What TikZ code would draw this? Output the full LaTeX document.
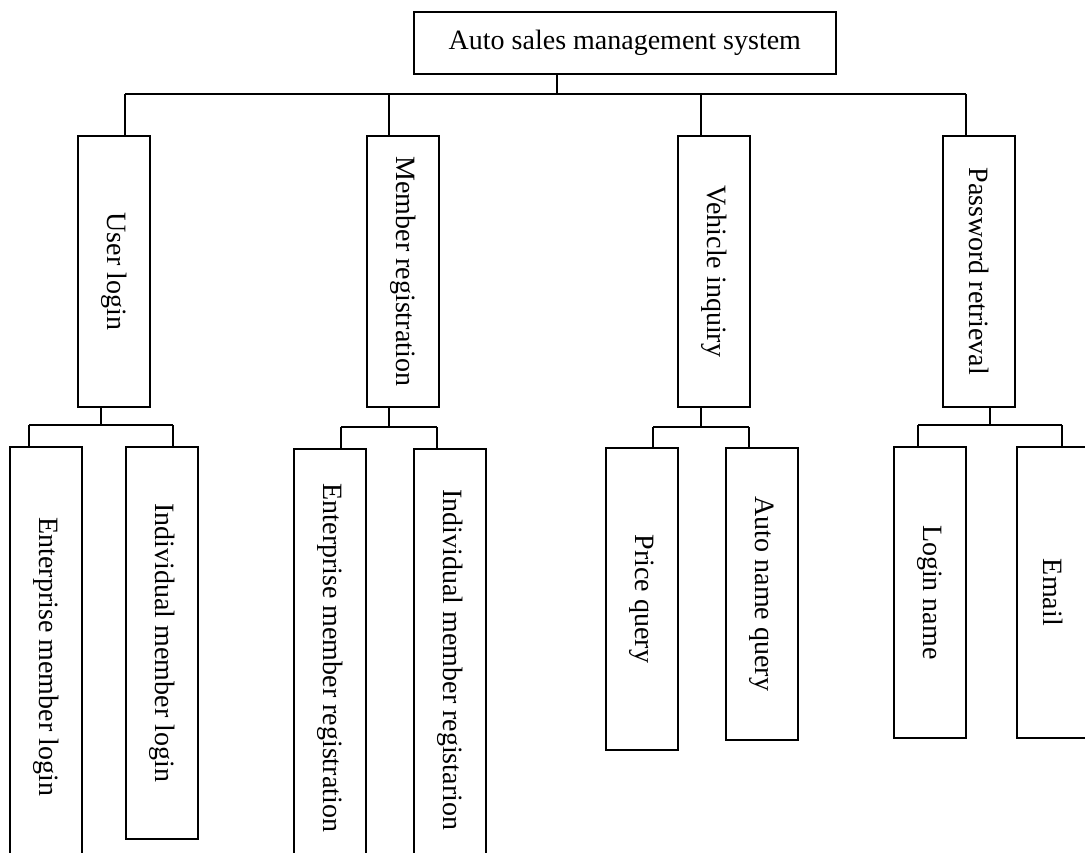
\documentclass[tikz,border=0pt]{standalone}
\usepackage{fontspec}
\setmainfont{Liberation Serif}
\usepackage{graphicx}
\usetikzlibrary{positioning}

\begin{document}
\begin{tikzpicture}[x=1pt, y=-1pt, line width=1.7pt,
  box/.style={draw, inner sep=0pt, anchor=north west, font=\fontsize{28}{34}\selectfont},
  vbox/.style={box, minimum width=72pt}]
\clip (0,0) rectangle (1085,853);

% Root
\node[box, minimum width=422pt, minimum height=62pt] (root) at (413,11) {Auto sales management system};

% First level
\node[vbox, minimum height=271pt] (login) at (77,135) {\rotatebox{-90}{User login}};
\node[vbox, minimum height=271pt] (reg) at (366,135) {\rotatebox{-90}{Member registration}};
\node[vbox, minimum height=271pt] (inq) at (677,135) {\rotatebox{-90}{Vehicle inquiry}};
\node[vbox, minimum height=271pt] (pwd) at (942,135) {\rotatebox{-90}{Password retrieval}};

% Second level
\node[vbox, minimum height=420pt] (elog) at (9,446) {\rotatebox{-90}{Enterprise member login}};
\node[vbox, minimum height=392pt] (ilog) at (125,446) {\rotatebox{-90}{Individual member login}};
\node[vbox, minimum height=418pt] (ereg) at (293,448) {\rotatebox{-90}{Enterprise member registration}};
\node[vbox, minimum height=422pt] (ireg) at (413,448) {\rotatebox{-90}{Individual member registarion}};
\node[vbox, minimum height=302pt] (price) at (605,447) {\rotatebox{-90}{Price query}};
\node[vbox, minimum height=292pt] (aname) at (725,447) {\rotatebox{-90}{Auto name query}};
\node[vbox, minimum height=291pt] (lname) at (893,446) {\rotatebox{-90}{Login name}};
\node[vbox, minimum height=291pt] (email) at (1016,446) {\rotatebox{-90}{Email}};

% Root to first level
\coordinate (root-b) at (557,94);
\coordinate (login-t) at (125,94);
\coordinate (reg-t) at (389,94);
\coordinate (inq-t) at (701,94);
\coordinate (pwd-t) at (966,94);
\draw (root.south -| root-b) -- (root-b);
\draw (login-t) -- (pwd-t);
\draw (login-t) -- (login-t |- login.north);
\draw (reg-t) -- (reg-t |- reg.north);
\draw (inq-t) -- (inq-t |- inq.north);
\draw (pwd-t) -- (pwd-t |- pwd.north);

% User login branch
\coordinate (login-b) at (101,425);
\coordinate (elog-t) at (29,425);
\coordinate (ilog-t) at (173,425);
\draw (login.south -| login-b) -- (login-b);
\draw (elog-t) -- (ilog-t);
\draw (elog-t) -- (elog-t |- elog.north);
\draw (ilog-t) -- (ilog-t |- ilog.north);

% Member registration branch
\coordinate (reg-b) at (389,427);
\coordinate (ereg-t) at (341,427);
\coordinate (ireg-t) at (437,427);
\draw (reg.south -| reg-b) -- (reg-b);
\draw (ereg-t) -- (ireg-t);
\draw (ereg-t) -- (ereg-t |- ereg.north);
\draw (ireg-t) -- (ireg-t |- ireg.north);

% Vehicle inquiry branch
\coordinate (inq-b) at (701,427);
\coordinate (price-t) at (653,427);
\coordinate (aname-t) at (749,427);
\draw (inq.south -| inq-b) -- (inq-b);
\draw (price-t) -- (aname-t);
\draw (price-t) -- (price-t |- price.north);
\draw (aname-t) -- (aname-t |- aname.north);

% Password retrieval branch
\coordinate (pwd-b) at (990,425);
\coordinate (lname-t) at (918,425);
\coordinate (email-t) at (1062,425);
\draw (pwd.south -| pwd-b) -- (pwd-b);
\draw (lname-t) -- (email-t);
\draw (lname-t) -- (lname-t |- lname.north);
\draw (email-t) -- (email-t |- email.north);

\end{tikzpicture}
\end{document}
